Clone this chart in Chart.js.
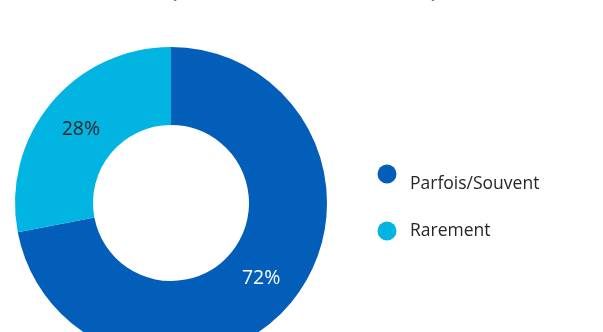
<!DOCTYPE html>
<html>
<head>
<meta charset="utf-8">
<script src="https://cdn.jsdelivr.net/npm/chart.js@4"></script>
<style>
  html, body { margin: 0; padding: 0; background: #fff; overflow: hidden; }
  #wrap { position: relative; width: 603px; height: 360px; }
</style>
</head>
<body>
<div id="wrap"><canvas id="freq"></canvas></div>
<script>
const labels = ["Parfois/Souvent", "Rarement"];
const values = [72, 28];
const colors = ["#025EB8", "#02B4E2"];
const labelColors = ["#ffffff", "#262626"];
const title = "(Base : ensemble des salariés)";

const font = "'Open Sans', 'Noto Sans', sans-serif";

// title sits mostly above the top edge, only its parentheses peek in
const titlePlugin = {
  id: "topTitle",
  afterDraw(chart) {
    const ctx = chart.ctx;
    ctx.save();
    ctx.font = "bold 18px " + font;
    ctx.fillStyle = "#0563C1";
    ctx.textAlign = "center";
    ctx.textBaseline = "alphabetic";
    ctx.fillText(title, 304, -2);
    ctx.restore();
  },
};

// percentage inside each slice
const sliceLabels = {
  id: "sliceLabels",
  afterDatasetsDraw(chart) {
    const ctx = chart.ctx;
    const meta = chart.getDatasetMeta(0);
    ctx.save();
    ctx.font = "19.5px " + font;
    ctx.textAlign = "center";
    ctx.textBaseline = "middle";
    meta.data.forEach((arc, i) => {
      const p = arc.tooltipPosition();
      ctx.fillStyle = labelColors[i];
      ctx.fillText(values[i] + "%", p.x, p.y + 1);
    });
    ctx.restore();
  },
};

// legend on the right, circle markers
const sideLegend = {
  id: "sideLegend",
  afterDraw(chart) {
    const ctx = chart.ctx;
    const rows = [{ dot: 174, text: 184 }, { dot: 231, text: 231 }];
    ctx.save();
    ctx.font = "17.5px " + font;
    ctx.textBaseline = "middle";
    chart.data.labels.forEach((lab, i) => {
      ctx.fillStyle = chart.data.datasets[0].backgroundColor[i];
      ctx.beginPath();
      ctx.arc(387, rows[i].dot, 9.5, 0, Math.PI * 2);
      ctx.fill();
      ctx.fillStyle = "#262626";
      ctx.fillText(lab, 410, rows[i].text);
    });
    ctx.restore();
  },
};

new Chart(document.getElementById("freq"), {
  type: "doughnut",
  data: {
    labels: labels,
    datasets: [
      {
        data: values,
        backgroundColor: colors,
        borderWidth: 0,
      },
    ],
  },
  options: {
    responsive: true,
    maintainAspectRatio: false,
    animation: false,
    cutout: "50%",
    layout: { padding: { left: 15, right: 276, top: 47, bottom: 1 } },
    plugins: {
      legend: { display: false },
      tooltip: { enabled: false },
    },
  },
  plugins: [titlePlugin, sliceLabels, sideLegend],
});
</script>
</body>
</html>
